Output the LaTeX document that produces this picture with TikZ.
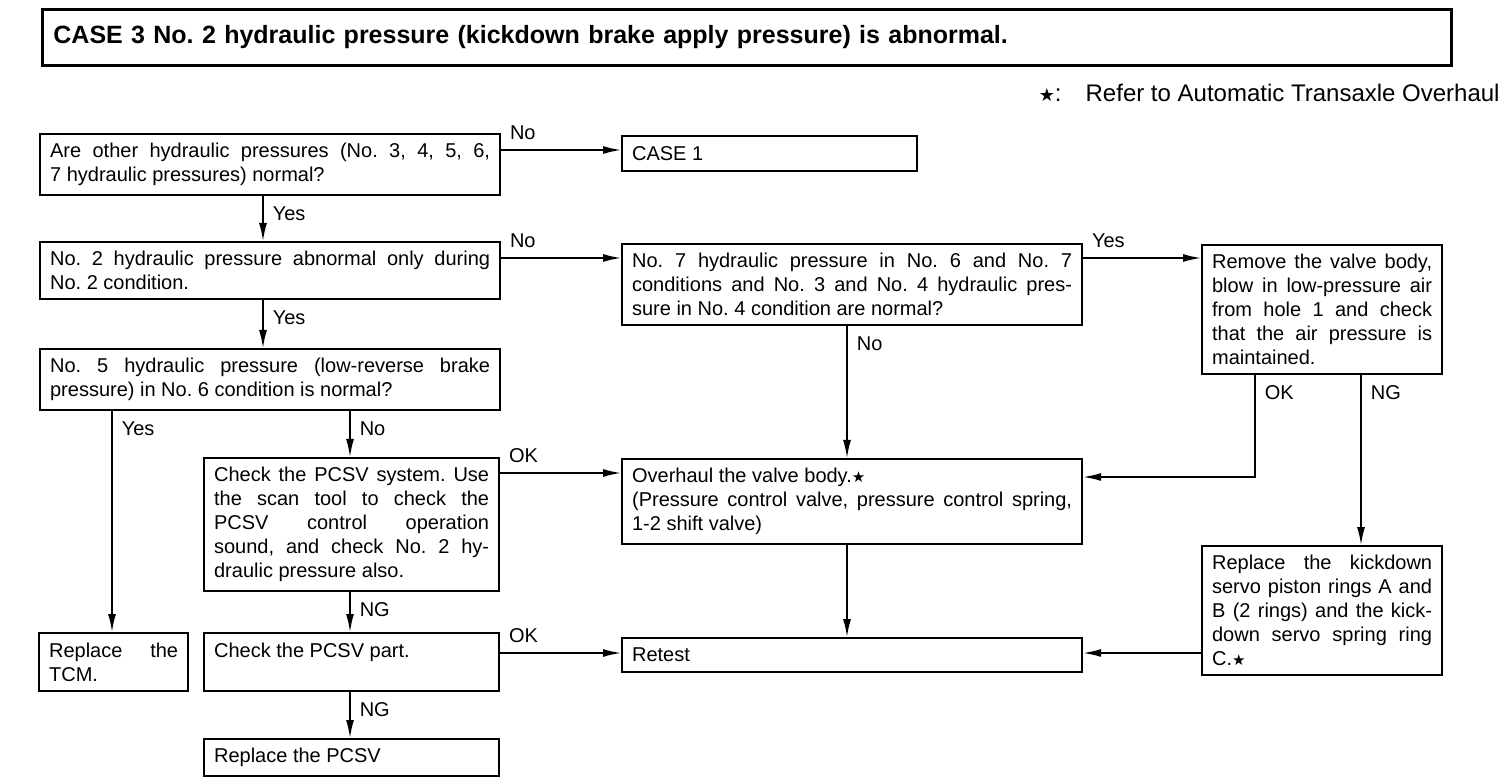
\documentclass[tikz,border=0pt]{standalone}
\usepackage{fontspec}
\setmainfont{Liberation Sans}
\newfontfamily\starfont{DejaVu Sans}
\usetikzlibrary{arrows.meta}
\newcommand\flowfont{\fontsize{10}{12}\selectfont\frenchspacing\hyphenpenalty=10000 \tolerance=10000 }
\newcommand\bstar{{\starfont\fontsize{7.5}{7.5}\selectfont ★}}

\begin{document}
\begin{tikzpicture}[x=0.5pt,y=-0.5pt,
	box/.style={draw,line width=1.1pt,anchor=north west,inner xsep=5pt,inner ysep=4.5pt,align=justify,font=\flowfont},
	arr/.style={line width=0.8pt,-{Latex[length=9pt,width=4pt]}},
	hlab/.style={anchor=south west,inner sep=0pt,xshift=4pt,yshift=5pt,font=\flowfont},
	vlab/.style={anchor=north west,inner sep=0pt,xshift=4.5pt,yshift=-5pt,font=\flowfont}]
	\useasboundingbox (0,0) rectangle (1504,780);
	\node[draw,line width=1.4pt,anchor=north west,minimum height=28pt,text width=693.5pt,inner xsep=5.5pt,align=left,font=\fontsize{12.5}{15}\selectfont\bfseries\frenchspacing] (title) at (41,8) {CASE 3 No. 2 hydraulic pressure (kickdown brake apply pressure) is abnormal.};
	\node[anchor=east,inner sep=0pt,font=\fontsize{12}{14}\selectfont] (note) at (1500,93) {{\starfont\fontsize{9}{9}\selectfont ★}:\quad Refer to Automatic Transaxle Overhaul};
	\node[box,text width=220pt] (pres) at (39,133) {Are other hydraulic pressures (No. 3, 4, 5, 6,\linebreak 7 hydraulic pressures) normal?};
	\node[box,text width=137.5pt,minimum height=17.5pt] (caseone) at (621,135) {CASE 1};
	\node[box,text width=220pt] (onlytwo) at (39,241) {No. 2 hydraulic pressure abnormal only during\linebreak No. 2 condition.};
	\node[box,text width=220pt] (noseven) at (621,243) {No. 7 hydraulic pressure in No. 6 and No. 7\linebreak conditions and No. 3 and No. 4 hydraulic pres-\linebreak sure in No. 4 condition are normal?};
	\node[box,text width=110pt] (remove) at (1201,244) {Remove the valve body,\linebreak blow in low-pressure air\linebreak from hole 1 and check\linebreak that the air pressure is\linebreak maintained.};
	\node[box,text width=220pt] (nofive) at (39,348) {No. 5 hydraulic pressure (low-reverse brake\linebreak pressure) in No. 6 condition is normal?};
	\node[box,text width=137.5pt] (pcsvsys) at (203,457) {Check the PCSV system. Use\linebreak the scan tool to check the\linebreak PCSV control operation\linebreak sound, and check No. 2 hy-\linebreak draulic pressure also.};
	\node[box,text width=220pt] (overhaul) at (621,458) {Overhaul the valve body.\bstar\\ (Pressure control valve, pressure control spring,\linebreak 1-2 shift valve)};
	\node[box,text width=110pt] (rings) at (1201,545) {Replace the kickdown\linebreak servo piston rings A and\linebreak B (2 rings) and the kick-\linebreak down servo spring ring\linebreak C.\bstar};
	\node[box,text width=64.5pt,minimum height=29pt] (tcm) at (38,632) {Replace the\linebreak TCM.};
	\node[box,text width=137.5pt,minimum height=29pt] (pcsvpart) at (203,632) {Check the PCSV part.\\\mbox{}};
	\node[box,text width=220pt,minimum height=17pt] (retest) at (621,637) {Retest};
	\node[box,text width=137.5pt,minimum height=16pt] (pcsv) at (203,738) {Replace the PCSV};
	\coordinate (c1) at (263,0);
	\coordinate (c2) at (112,0);
	\coordinate (c3) at (350,0);
	\coordinate (c4) at (847,0);
	\coordinate (c5) at (1255,0);
	\coordinate (c6) at (1361,0);
	\coordinate (r1) at (0,150);
	\coordinate (r2) at (0,258);
	\coordinate (r3) at (0,473);
	\coordinate (r4) at (0,477);
	\coordinate (r5) at (0,653);
	\draw[arr] (pres.east |- r1) -- (caseone.west |- r1) node[at start,hlab] {No};
	\draw[arr] (pres.south -| c1) -- (onlytwo.north -| c1) node[at start,vlab] {Yes};
	\draw[arr] (onlytwo.east |- r2) -- (noseven.west |- r2) node[at start,hlab] {No};
	\draw[arr] (onlytwo.south -| c1) -- (nofive.north -| c1) node[at start,vlab] {Yes};
	\draw[arr] (noseven.east |- r2) -- (remove.west |- r2) node[at start,hlab] {Yes};
	\draw[arr] (nofive.south -| c2) -- (tcm.north -| c2) node[at start,vlab] {Yes};
	\draw[arr] (nofive.south -| c3) -- (pcsvsys.north -| c3) node[at start,vlab] {No};
	\draw[arr] (noseven.south -| c4) -- (overhaul.north -| c4) node[at start,vlab] {No};
	\draw[arr] (remove.south -| c5) |- (overhaul.east |- r4) node[at start,vlab] {OK};
	\draw[arr] (remove.south -| c6) -- (rings.north -| c6) node[at start,vlab] {NG};
	\draw[arr] (pcsvsys.east |- r3) -- (overhaul.west |- r3) node[at start,hlab] {OK};
	\draw[arr] (pcsvsys.south -| c3) -- (pcsvpart.north -| c3) node[at start,vlab] {NG};
	\draw[arr] (pcsvpart.east |- r5) -- (retest.west |- r5) node[at start,hlab] {OK};
	\draw[arr] (pcsvpart.south -| c3) -- (pcsv.north -| c3) node[at start,vlab] {NG};
	\draw[arr] (overhaul.south -| c4) -- (retest.north -| c4);
	\draw[arr] (rings.west |- r5) -- (retest.east |- r5);
\end{tikzpicture}
\end{document}
